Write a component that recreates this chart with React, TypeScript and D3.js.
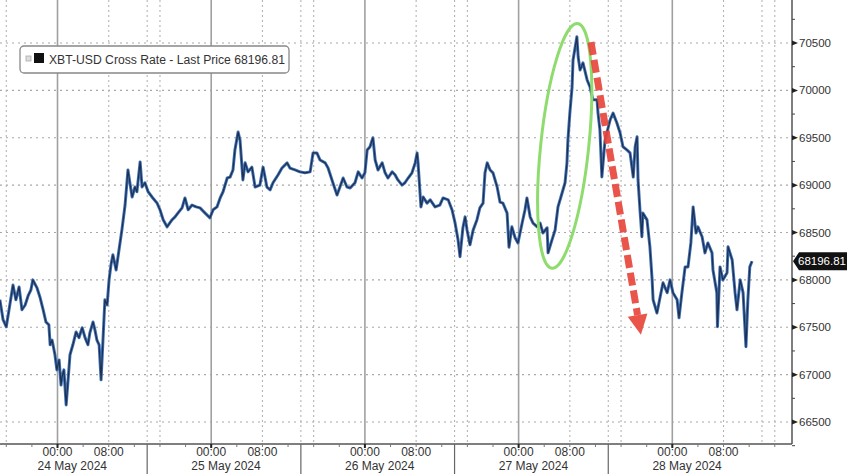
import React from 'react';
import * as d3 from 'd3';

// ---- data (hours since 24 May 2024 00:00, price) ----
const hours: number[] = [
  -9.0, -8.5, -8.0, -7.4, -6.95, -6.5, -6.0, -5.55, -5.05, -4.6,
  -4.15, -3.85, -3.2, -2.75, -2.25, -1.8, -1.35, -1.15, -0.85, -0.4,
  -0.1, 0.25, 0.55, 0.7, 1.0, 1.35, 1.65, 1.95, 2.4, 2.9,
  3.35, 3.85, 4.3, 4.75, 5.05, 5.55, 5.85, 6.15, 6.5, 6.8,
  7.1, 7.4, 7.75, 8.05, 8.35, 8.65, 9.15, 9.6,
  10.05, 10.55, 11.0, 11.3, 11.65, 12.1, 12.4, 12.9, 13.2, 13.65,
  14.15, 14.75, 15.55, 16.0, 16.5, 17.1, 17.9, 18.35, 18.8, 19.45,
  19.9, 20.4, 21.0, 21.65, 22.25, 23.05, 23.8, 24.3, 24.9, 25.4,
  25.85, 26.5, 26.95, 27.4, 27.7, 28.2, 28.5, 28.95, 29.3, 29.75,
  30.35, 30.85, 31.6,
  32.1, 32.7, 33.2, 33.65, 34.45, 35.05, 35.85, 36.3, 37.1, 37.85,
  38.65, 39.45, 39.9, 40.5, 41.0, 41.8, 42.25, 43.0, 43.65, 44.1,
  44.6, 45.2, 45.7, 46.45, 46.95, 47.55, 48.0, 48.35, 48.8, 49.25,
  49.6, 50.05, 50.7, 51.15, 51.6, 52.25, 52.7, 53.15, 53.8, 54.25,
  54.75, 55.35, 55.85, 56.15, 56.3, 56.75, 57.1, 57.7, 58.2, 58.95,
  59.7, 60.2, 61.0, 61.6, 62.05, 62.55, 62.85, 63.3, 63.65, 63.95,
  64.4, 64.9, 65.5, 65.95, 66.45, 66.75, 67.1, 67.55, 68.0, 68.65,
  69.1, 69.55, 70.2, 70.5, 70.95, 71.45, 71.9, 72.55, 73.0, 73.3,
  73.8, 74.25, 74.9, 75.35, 75.8, 76.45, 76.6, 77.2, 77.7, 78.15,
  78.8, 79.25, 79.55, 79.7, 80.0, 80.35, 80.5, 81.1, 81.3, 81.6,
  82.05, 82.7, 83.15, 83.6, 84.25, 84.4, 84.7, 85.0, 85.5, 86.3,
  86.75, 87.35, 87.85, 88.3, 88.95, 89.4, 89.9, 90.2, 90.5, 90.65,
  90.95, 91.25, 91.4, 92.05, 92.5, 92.85, 93.0, 93.6, 94.1, 94.55,
  95.2, 95.65, 96.1, 96.75, 97.05, 97.5, 98.0, 98.45, 98.9, 99.25,
  99.7, 100.0, 100.65, 101.1, 101.55, 102.2, 102.35, 102.95, 103.05, 103.45,
  103.9, 104.55, 104.7, 105.35, 105.8, 106.1, 106.6, 107.05, 107.5, 107.8,
  108.1, 108.45,
];

const prices: number[] = [
  67790, 67580, 67505, 67755, 67945, 67790, 67925, 67685, 67735, 67830,
  67895, 68000, 67915, 67820, 67685, 67555, 67525, 67315, 67365, 67210,
  67050, 67155, 66890, 66975, 67050, 66680, 66945, 67210, 67315, 67450,
  67390, 67495, 67390, 67315, 67440, 67555, 67470, 67365, 67315, 66945,
  67365, 67790, 67735, 68000, 68160, 68265, 68105, 68315,
  68525, 68790, 69160, 69025, 68875, 68980, 68930, 69245, 68980, 69025,
  68930, 68875, 68810, 68740, 68635, 68560, 68635, 68665, 68705, 68760,
  68865, 68740, 68790, 68770, 68760, 68705, 68655, 68740, 68770, 68865,
  68930, 69075, 69085, 69160, 69370, 69560, 69475, 69055, 69235, 69140,
  69190, 68980, 69000,
  69190, 68980, 68950, 69025, 69110, 69180, 69235, 69180, 69160, 69140,
  69130, 69140, 69340, 69340, 69265, 69235, 69180, 69025, 68895, 68980,
  69075, 68980, 68970, 69025, 69140, 69075, 69130, 69370, 69405, 69500,
  69265, 69160, 69235, 69130, 69075, 69140, 69110, 69055, 69000, 69025,
  69075, 69130, 69235, 69340, 69235, 68770, 68875, 68810, 68845, 68770,
  68790, 68865, 68845, 68740, 68610, 68420, 68245, 68550, 68665, 68527,
  68370, 68525, 68635, 68760, 68810, 69130, 69235, 69160, 69130, 68980,
  68820, 68810, 68705, 68345, 68560, 68445, 68390, 68600, 68740, 68865,
  68665, 68600, 68560, 68600, 68495, 68550, 68285, 68420, 68527, 68770,
  68920, 69025, 69235, 69477, 69760, 70035, 70320, 70565, 70355, 70215,
  70290, 70110, 70035, 69900, 69900, 69760, 69580, 69087, 69477, 69690,
  69760, 69655, 69550, 69405, 69370, 69340, 69085, 69405, 69510, 69055,
  68740, 68455, 68705, 68633, 68350, 68000, 67790, 67650, 67820, 67970,
  67865, 68000, 67865, 67790, 67600, 67865, 68137, 68137, 68390, 68770,
  68495, 68560, 68455, 68285, 68390, 68285, 68105, 67865, 67505, 68137,
  68000, 68075, 68350, 68210, 67865, 67685, 68000, 67865, 67295, 67790,
  68137, 68196.81,
];

const yTicks: number[] = [66500, 67000, 67500, 68000, 68500, 69000, 69500, 70000, 70500];
const dayStarts: number[] = [0, 24, 48, 72, 96];
const dayLabels: string[] = ['24 May 2024', '25 May 2024', '26 May 2024', '27 May 2024', '28 May 2024'];
const hourLabels: { offset: number; label: string }[] = [
  { offset: 0, label: '00:00' },
  { offset: 8, label: '08:00' },
];
const separatorHours: number[] = [14, 38, 62, 86];
const dottedHours: number[] = [-8, 8, 14, 16, 32, 38, 40, 56, 62, 64, 80, 86, 88, 104, 110, 112];
const lastPrice = 68196.81;
const seriesName = 'XBT-USD Cross Rate - Last Price';

// annotations (in data units)
const ellipseCenter = { h: 79.2, p: 69414 };
const arrowFrom = { h: 83.3, p: 70510 };
const arrowTo = { h: 91.1, p: 67420 };

const W = 848;
const H = 474;
const plotRight = 792;
const plotBottom = 444;
const FONT = '"Liberation Sans", Arial, sans-serif';

export default function App() {
  const x = d3.scaleLinear().domain([-8.98, 114.69]).range([0, plotRight]);
  const y = d3.scaleLinear().domain([66500, 70500]).range([422, 43]);

  const pts = hours.map((h, i) => [h, prices[i]] as [number, number]).filter((d) => d[1] !== undefined);
  const line = d3
    .line<[number, number]>()
    .x((d) => x(d[0]))
    .y((d) => y(d[1]));
  const path = line(pts) || '';

  const minorY = d3.range(66250, 70751, 250).filter((v) => v % 500 !== 0);
  const minorX = d3.range(-8, 114, 4);

  const ly = y(lastPrice);

  // arrow geometry
  const ax1 = x(arrowFrom.h), ay1 = y(arrowFrom.p);
  const ax2 = x(arrowTo.h), ay2 = y(arrowTo.p);
  const ang = Math.atan2(ay2 - ay1, ax2 - ax1);
  const headLen = 20, headW = 10;
  const bx = ax2 - headLen * Math.cos(ang), by = ay2 - headLen * Math.sin(ang);
  const px = -Math.sin(ang), py = Math.cos(ang);
  const head = `M${ax2},${ay2} L${bx + px * headW},${by + py * headW} L${bx - px * headW},${by - py * headW} Z`;

  const ecx = x(ellipseCenter.h), ecy = y(ellipseCenter.p);

  return (
    <svg
      width={W}
      height={H}
      style={{ position: 'absolute', left: 0, top: 0, background: '#fff' }}
      fontFamily={FONT}
    >
      <rect x={0} y={0} width={W} height={H} fill="#ffffff" />
      {/* horizontal dotted grid */}
      {yTicks.map((t) => (
        <line key={'hg' + t} x1={0} x2={plotRight} y1={y(t)} y2={y(t)} stroke="#a8a8a8" strokeWidth={1.2} strokeDasharray="2 4" />
      ))}
      {/* vertical dotted grid */}
      {dottedHours.map((h) => (
        <line key={'vd' + h} x1={x(h)} x2={x(h)} y1={0} y2={plotBottom} stroke="#b4b4b4" strokeWidth={1.1} strokeDasharray="2 3" />
      ))}
      {/* vertical solid grid at day starts */}
      {dayStarts.map((h) => (
        <line key={'vs' + h} x1={x(h)} x2={x(h)} y1={0} y2={plotBottom} stroke="#a0a0a0" strokeWidth={1.6} />
      ))}

      {/* price line */}
      <path d={path} fill="none" stroke="#3d70b8" strokeWidth={3} strokeLinejoin="round" />
      <path d={path} fill="none" stroke="#1b2438" strokeWidth={1.2} strokeLinejoin="round" opacity={0.85} />

      {/* axes */}
      <line x1={plotRight} x2={plotRight} y1={0} y2={plotBottom} stroke="#555" strokeWidth={1.5} />
      <line x1={0} x2={plotRight} y1={plotBottom} y2={plotBottom} stroke="#555" strokeWidth={1.5} />

      {/* y ticks */}
      {minorY.map((t) => (
        <line key={'my' + t} x1={plotRight} x2={plotRight + 3} y1={y(t)} y2={y(t)} stroke="#444" strokeWidth={1} />
      ))}
      {yTicks.map((t) => (
        <g key={'yt' + t}>
          <path d={`M${plotRight},${y(t) - 2.5} L${plotRight + 6},${y(t)} L${plotRight},${y(t) + 2.5} Z`} fill="#222" />
          <text x={plotRight + 7} y={y(t)} dy="0.35em" fontSize={11.5} fill="#333">
            {t}
          </text>
        </g>
      ))}

      {/* last price tag */}
      <path
        d={`M${plotRight + 1},${ly} L${plotRight + 7},${ly - 9} L${W - 1},${ly - 9} L${W - 1},${ly + 9} L${plotRight + 7},${ly + 9} Z`}
        fill="#111"
      />
      <text x={plotRight + 6} y={ly} dy="0.36em" fontSize={11.5} fill="#fff">
        {lastPrice.toFixed(2)}
      </text>

      {/* x ticks */}
      {minorX.map((h) => (
        <line key={'mx' + h} x1={x(h)} x2={x(h)} y1={plotBottom} y2={plotBottom + 3} stroke="#777" strokeWidth={1} />
      ))}
      {dayStarts.map((h) => (
        <line key={'mj' + h} x1={x(h)} x2={x(h)} y1={plotBottom} y2={plotBottom + 4} stroke="#222" strokeWidth={2} />
      ))}
      {separatorHours.map((h) => (
        <line key={'sep' + h} x1={x(h)} x2={x(h)} y1={plotBottom} y2={H} stroke="#666" strokeWidth={1.2} />
      ))}
      {dayStarts.map((d, i) => (
        <g key={'dl' + d}>
          {hourLabels.map((hl) => (
            <text key={hl.label} x={x(d + hl.offset)} y={456} textAnchor="middle" fontSize={12} fill="#333">
              {hl.label}
            </text>
          ))}
          <text x={(x(d - 10) + x(d + 14)) / 2 + 2} y={470} textAnchor="middle" fontSize={12} fill="#333">
            {dayLabels[i]}
          </text>
        </g>
      ))}

      {/* legend */}
      <rect x={20} y={46} width={269} height={27} rx={4} fill="#fff" stroke="#888" strokeWidth={1.3} />
      <rect x={26} y={56} width={5} height={5} fill="#ddd" stroke="#aaa" strokeWidth={0.8} />
      <rect x={34} y={53} width={10} height={10} fill="#111" />
      <text x={49} y={64} fontSize={12} fill="#333" textLength={236} lengthAdjust="spacingAndGlyphs">
        {`${seriesName} ${lastPrice.toFixed(2)}`}
      </text>

      {/* annotations */}
      <ellipse
        cx={ecx}
        cy={ecy}
        rx={24}
        ry={123}
        fill="none"
        stroke="#8fdc6e"
        strokeWidth={3}
        transform={`rotate(6 ${ecx} ${ecy})`}
      />
      <line x1={ax1} y1={ay1} x2={bx} y2={by} stroke="#e8463c" strokeWidth={7} strokeDasharray="13 5" opacity={0.92} />
      <path d={head} fill="#e8463c" opacity={0.92} />
    </svg>
  );
}
